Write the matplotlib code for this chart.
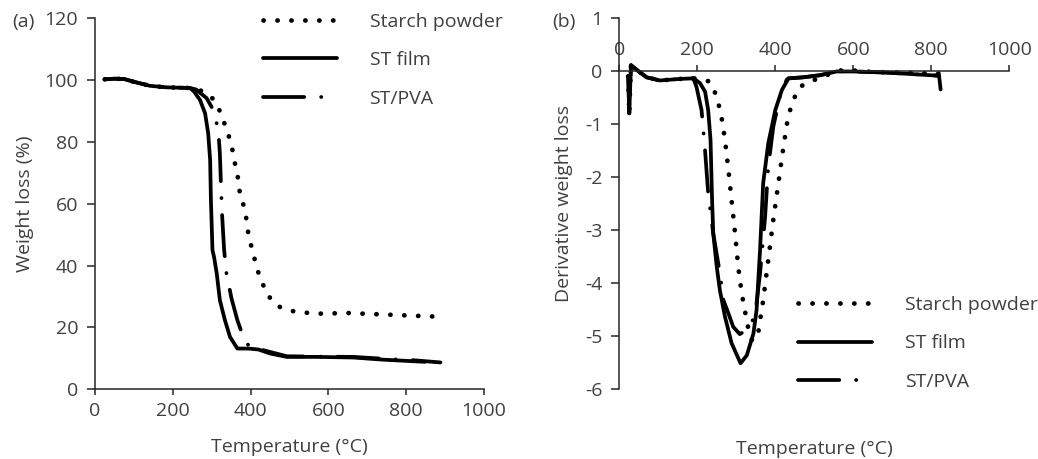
import matplotlib.pyplot as plt

plt.rcParams['font.family'] = ['Open Sans', 'DejaVu Sans']
plt.rcParams['font.size'] = 14
plt.rcParams['axes.unicode_minus'] = False

TXT = '#404040'
AX = '#262626'

# TGA (panel a)
starch_t = [25, 50, 75, 100, 141, 184, 244, 262, 278, 300, 314, 326, 334, 343, 351, 360, 366, 373,
            381, 387, 394, 400, 407, 413, 420, 430, 439, 454, 471, 497, 523, 574, 651, 728, 806, 887]
starch_w = [100.3, 100.5, 100.4, 99.5, 98.2, 97.7, 97.5, 97.2, 96.3, 94.5, 91.7, 88.8, 85.5, 82.3, 79.0,
            72.9, 69.6, 63.0, 59.9, 56.9, 50.4, 47.1, 43.9, 40.6, 37.7, 34.5, 31.5, 28.8, 26.8, 25.5,
            24.9, 24.4, 24.6, 24.2, 23.8, 23.4]

film_t = [25, 50, 75, 100, 141, 184, 244, 255, 270, 283, 291, 296, 298, 302, 306, 313, 321, 334, 347,
          366, 394, 420, 450, 493, 570, 664, 741, 848]
film_w = [100.3, 100.5, 100.4, 99.5, 98.2, 97.7, 97.5, 96.3, 93.6, 89.3, 82.8, 74.2, 61.2, 45.0, 42.8,
          37.4, 28.8, 22.3, 16.9, 13.1, 13.1, 12.8, 11.5, 10.4, 10.4, 10.2, 9.5, 8.8]

pva_t = [25, 50, 75, 100, 141, 184, 244, 260, 287, 304, 317, 321, 324, 327, 332, 338, 351, 366, 381,
         398, 420, 450, 493, 570, 664, 741, 820, 888]
pva_w = [100.3, 100.5, 100.4, 99.5, 98.2, 97.7, 97.5, 97.0, 94.2, 90.4, 83.9, 76.3, 65.5, 55.8, 45.0,
         37.4, 29.3, 22.3, 16.9, 13.4, 13.0, 12.0, 10.6, 10.5, 10.4, 9.8, 9.3, 8.6]

# DTG (panel b)
d_start_t = [23, 25.6, 30, 45, 70, 104, 156, 190]
d_start_v = [-0.1, -0.8, 0.11, 0.02, -0.12, -0.18, -0.15, -0.14]

dstarch_t = d_start_t + [207, 232, 250, 262, 271, 279, 288, 297, 305, 314, 325, 335, 342, 349, 356, 369,
                         382, 395, 408, 421, 433, 446, 463, 489, 523, 557, 583, 650, 720, 820]
dstarch_v = d_start_v + [-0.15, -0.2, -0.48, -0.86, -1.3, -1.81, -2.44, -3.07, -3.7, -4.2, -4.64, -5.02,
                         -5.1, -5.05, -4.96, -4.33, -3.57, -2.81, -2.12, -1.43, -0.86, -0.55, -0.3, -0.2,
                         -0.11, 0.0, 0.02, -0.02, -0.03, -0.05]

dfilm_t = d_start_t + [207, 220, 228, 234, 238, 241, 250, 258, 271, 288, 311, 327, 344, 352, 361, 369,
                       382, 400, 417, 434, 472, 515, 557, 600, 685, 797, 820, 824]
dfilm_v = d_start_v + [-0.23, -0.39, -0.74, -1.3, -2.44, -3.07, -3.7, -4.14, -4.64, -5.14, -5.52, -5.37,
                       -4.96, -4.52, -3.38, -2.12, -1.37, -0.74, -0.36, -0.14, -0.12, -0.08, -0.01, -0.01,
                       -0.03, -0.08, -0.09, -0.35]

dpva_t = d_start_t + [198, 211, 220, 228, 241, 258, 267, 280, 292, 309, 325, 348, 361, 374, 382, 395,
                      412, 429, 434, 472, 515, 557, 600, 685, 797, 820]
dpva_v = d_start_v + [-0.3, -0.74, -1.5, -2.31, -3.07, -3.82, -4.33, -4.58, -4.83, -4.97, -4.9, -4.64,
                      -3.82, -2.75, -1.81, -1.05, -0.48, -0.17, -0.14, -0.12, -0.08, -0.01, -0.01, -0.03,
                      -0.08, -0.09]

labels = ['Starch powder', 'ST film', 'ST/PVA']

dot_style = dict(color='black', lw=3.4, linestyle=(0, (0.05, 2.9)), dash_capstyle='round')
solid_style = dict(color='black', lw=2.7, solid_capstyle='round')
dash_style = dict(color='black', lw=2.7, linestyle=(0, (11, 4.5, 0.05, 4.5)), dash_capstyle='round')

fig = plt.figure(figsize=(10.38, 4.59), dpi=100)
ax1 = fig.add_axes([0.0915, 0.1525, 0.3748, 0.8072])
ax2 = fig.add_axes([0.5966, 0.1532, 0.3757, 0.8076])

leg_kw = dict(frameon=False, fontsize=14, handlelength=3.8, handletextpad=1.7, labelspacing=1.05,
              borderpad=0, borderaxespad=0, labelcolor=TXT, loc='upper left',
              bbox_transform=fig.transFigure)

# panel (a)
ax1.plot(starch_t, starch_w, label=labels[0], **dot_style)
ax1.plot(film_t, film_w, label=labels[1], **solid_style)
ax1.plot(pva_t, pva_w, label=labels[2], **dash_style)
ax1.set_xlim(0, 1000)
ax1.set_ylim(0, 120)
ax1.set_xticks(range(0, 1001, 200))
ax1.set_yticks(range(0, 121, 20))
for s in ['top', 'right']:
    ax1.spines[s].set_visible(False)
for s in ['left', 'bottom']:
    ax1.spines[s].set_color(AX)
    ax1.spines[s].set_linewidth(1.1)
ax1.tick_params(colors=AX, labelcolor=TXT, labelsize=14, width=1.1, direction='out')
ax1.tick_params(axis='x', length=4.5, pad=5)
ax1.tick_params(axis='y', length=6, pad=6)
ax1.set_xlabel('Temperature (°C)', color=TXT, fontsize=14, labelpad=13)
ax1.set_ylabel('Weight loss (%)', color=TXT, fontsize=14, labelpad=8)
ax1.legend(bbox_to_anchor=(0.253, 0.972), **leg_kw)
fig.text(0.012, 0.953, '(a)', color=TXT, fontsize=14, va='center')

# panel (b)
ax2.plot(dstarch_t, dstarch_v, label=labels[0], **dot_style)
ax2.plot(dfilm_t, dfilm_v, label=labels[1], **solid_style)
ax2.plot(dpva_t, dpva_v, label=labels[2], **dash_style)
ax2.set_xlim(0, 1000)
ax2.set_ylim(-6, 1)
ax2.set_xticks(range(0, 1001, 200))
ax2.set_yticks(range(-6, 2, 1))
ax2.spines['right'].set_visible(False)
ax2.spines['bottom'].set_visible(False)
ax2.spines['top'].set_position(('data', 0))
for s in ['left', 'top']:
    ax2.spines[s].set_color(AX)
    ax2.spines[s].set_linewidth(1.1)
ax2.xaxis.set_ticks_position('top')
ax2.tick_params(colors=AX, labelcolor=TXT, labelsize=14, width=1.1, direction='out')
ax2.tick_params(axis='x', length=4.5, pad=4)
ax2.tick_params(axis='y', length=6, pad=6)
ax2.xaxis.set_label_position('bottom')
ax2.set_xlabel('Temperature (°C)', color=TXT, fontsize=14, labelpad=37)
ax2.set_ylabel('Derivative weight loss', color=TXT, fontsize=14, labelpad=9)
ax2.legend(bbox_to_anchor=(0.769, 0.355), **leg_kw)
fig.text(0.532, 0.953, '(b)', color=TXT, fontsize=14, va='center')

fig.savefig('out.png', dpi=100)
